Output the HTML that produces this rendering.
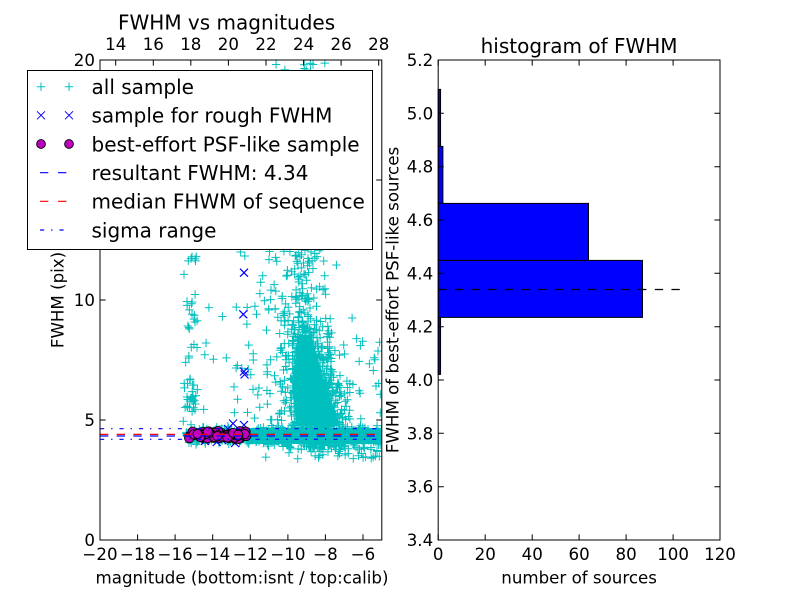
<!DOCTYPE html>
<html>
<head>
<meta charset="utf-8">
<style>
html,body{margin:0;padding:0;background:#fff;}
svg{display:block;}
text{font-family:"DejaVu Sans","Liberation Sans",sans-serif;fill:#000;}
.tk{font-size:16.67px;}
.lg{font-size:20px;}
</style>
</head>
<body>
<svg id="s" width="800" height="600" viewBox="0 0 800 600" xmlns="http://www.w3.org/2000/svg">
<defs>
<clipPath id="c1"><rect x="100" y="60" width="281.8" height="480"/></clipPath>
</defs>
<rect x="0" y="0" width="800" height="600" fill="#fff"/>

<!-- LEFT AXES -->
<g clip-path="url(#c1)">
  <polygon points="246,428 382,428 382,444 246,444" fill="#00bfbf"/>
  <polygon points="299,335 311,335 324,380 340,426 296,426 292,380" fill="#00bfbf"/>
  <path id="cy" d="" stroke="#00bfbf" stroke-width="1" fill="none"/>
  <path id="bx" d="" stroke="#0000ff" stroke-width="1.2" fill="none"/>
  <g id="mc" fill="#bf00bf" stroke="#000" stroke-width="0.9"></g>
  <line x1="100" y1="428.7" x2="382" y2="428.7" stroke="#0000ff" stroke-width="1.2" stroke-dasharray="4.17 6.94 1.39 6.94"/>
  <line x1="100" y1="439.3" x2="382" y2="439.3" stroke="#0000ff" stroke-width="1.2" stroke-dasharray="4.17 6.94 1.39 6.94"/>
  <line x1="100" y1="436" x2="382" y2="436" stroke="#0000ff" stroke-width="1.2" stroke-dasharray="8.33 8.33"/>
  <line x1="100" y1="434.4" x2="382" y2="434.4" stroke="#ff0000" stroke-width="1.2" stroke-dasharray="8.33 8.33"/>
</g>
<rect x="100" y="60" width="281.8" height="480" fill="none" stroke="#000" stroke-width="1"/>
<g stroke="#000" stroke-width="1">
  <path d="M100 540v-5.6M137.6 540v-5.6M175.1 540v-5.6M212.7 540v-5.6M250.3 540v-5.6M287.9 540v-5.6M325.4 540v-5.6M363 540v-5.6"/>
  <path d="M115.7 60v5.6M153.3 60v5.6M190.8 60v5.6M228.4 60v5.6M266 60v5.6M303.6 60v5.6M341.1 60v5.6M378.7 60v5.6"/>
  <path d="M100 540h5.6M100 420h5.6M100 300h5.6M100 180h5.6M100 60h5.6M381.8 540h-5.6M381.8 420h-5.6M381.8 300h-5.6M381.8 180h-5.6M381.8 60h-5.6"/>
</g>
<g class="tk" text-anchor="middle">
  <text x="100" y="560">−20</text>
  <text x="137.6" y="560">−18</text>
  <text x="175.1" y="560">−16</text>
  <text x="212.7" y="560">−14</text>
  <text x="250.3" y="560">−12</text>
  <text x="287.9" y="560">−10</text>
  <text x="325.4" y="560">−8</text>
  <text x="363" y="560">−6</text>
  <text x="115.7" y="50">14</text>
  <text x="153.3" y="50">16</text>
  <text x="190.8" y="50">18</text>
  <text x="228.4" y="50">20</text>
  <text x="266" y="50">22</text>
  <text x="303.6" y="50">24</text>
  <text x="341.1" y="50">26</text>
  <text x="378.7" y="50">28</text>
</g>
<g class="tk" text-anchor="end">
  <text x="95" y="546">0</text>
  <text x="95" y="426">5</text>
  <text x="95" y="306">10</text>
  <text x="95" y="186">15</text>
  <text x="95" y="66">20</text>
</g>
<text class="tk" x="242" y="583.5" text-anchor="middle">magnitude (bottom:isnt / top:calib)</text>
<text class="tk" transform="translate(63.5,300) rotate(-90)" text-anchor="middle">FWHM (pix)</text>
<text x="118" y="29.3" style="font-size:20px">FWHM vs magnitudes</text>

<!-- LEGEND -->
<rect x="27.5" y="70.5" width="345" height="179" fill="#fff" stroke="#000" stroke-width="1"/>
<g stroke="#00bfbf" stroke-width="1"><path d="M36.8 86.7h8.4M41 82.5v8.4M64.8 86.7h8.4M69 82.5v8.4"/></g>
<g stroke="#0000ff" stroke-width="1"><path d="M37 111.3l8 8M37 119.3l8 -8M65 111.3l8 8M65 119.3l8 -8"/></g>
<circle cx="41" cy="144" r="4.4" fill="#bf00bf" stroke="#000" stroke-width="0.9"/>
<circle cx="69" cy="144" r="4.4" fill="#bf00bf" stroke="#000" stroke-width="0.9"/>
<line x1="40" y1="172.7" x2="69" y2="172.7" stroke="#0000ff" stroke-width="1.2" stroke-dasharray="8.33 9.7"/>
<line x1="40" y1="201.3" x2="69" y2="201.3" stroke="#ff0000" stroke-width="1.2" stroke-dasharray="8.33 9.7"/>
<line x1="40" y1="230" x2="69" y2="230" stroke="#0000ff" stroke-width="1.2" stroke-dasharray="4.17 6.94 1.39 6.94"/>
<g class="lg">
  <text x="91.5" y="94">all sample</text>
  <text x="91.5" y="122.6">sample for rough FWHM</text>
  <text x="91.5" y="151.3">best-effort PSF-like sample</text>
  <text x="91.5" y="180">resultant FWHM: 4.34</text>
  <text x="91.5" y="208.6">median FHWM of sequence</text>
  <text x="91.5" y="237.3">sigma range</text>
</g>

<!-- RIGHT AXES -->
<g fill="#0000ff" stroke="#000" stroke-width="1">
  <rect x="438.2" y="317.4" width="2.35" height="57"/>
  <rect x="438.2" y="260.4" width="204.3" height="57"/>
  <rect x="438.2" y="203.4" width="150.3" height="57"/>
  <rect x="438.2" y="146.4" width="4.7" height="57"/>
  <rect x="438.2" y="89.4" width="2.35" height="57"/>
</g>
<line x1="438.2" y1="289.5" x2="682" y2="289.5" stroke="#000" stroke-width="1.2" stroke-dasharray="8.33 8.33"/>
<rect x="438.2" y="60" width="281.8" height="480" fill="none" stroke="#000" stroke-width="1"/>
<g stroke="#000" stroke-width="1">
  <path d="M438.2 540v-5.6M485.2 540v-5.6M532.2 540v-5.6M579.1 540v-5.6M626.1 540v-5.6M673.1 540v-5.6M720 540v-5.6"/>
  <path d="M438.2 60v5.6M485.2 60v5.6M532.2 60v5.6M579.1 60v5.6M626.1 60v5.6M673.1 60v5.6M720 60v5.6"/>
  <path d="M438.2 540h5.6M438.2 486.7h5.6M438.2 433.3h5.6M438.2 380h5.6M438.2 326.7h5.6M438.2 273.3h5.6M438.2 220h5.6M438.2 166.7h5.6M438.2 113.3h5.6M438.2 60h5.6"/>
  <path d="M720 540h-5.6M720 486.7h-5.6M720 433.3h-5.6M720 380h-5.6M720 326.7h-5.6M720 273.3h-5.6M720 220h-5.6M720 166.7h-5.6M720 113.3h-5.6M720 60h-5.6"/>
</g>
<g class="tk" text-anchor="middle">
  <text x="438.2" y="560">0</text>
  <text x="485.2" y="560">20</text>
  <text x="532.2" y="560">40</text>
  <text x="579.1" y="560">60</text>
  <text x="626.1" y="560">80</text>
  <text x="673.1" y="560">100</text>
  <text x="720" y="560">120</text>
</g>
<g class="tk" text-anchor="end">
  <text x="433.2" y="546">3.4</text>
  <text x="433.2" y="492.7">3.6</text>
  <text x="433.2" y="439.3">3.8</text>
  <text x="433.2" y="386">4.0</text>
  <text x="433.2" y="332.7">4.2</text>
  <text x="433.2" y="279.3">4.4</text>
  <text x="433.2" y="226">4.6</text>
  <text x="433.2" y="172.7">4.8</text>
  <text x="433.2" y="119.3">5.0</text>
  <text x="433.2" y="66">5.2</text>
</g>
<text class="tk" x="579.1" y="583.5" text-anchor="middle">number of sources</text>
<text class="tk" transform="translate(398.5,300) rotate(-90)" text-anchor="middle">FWHM of best-effort PSF-like sources</text>
<text class="lg" x="579.1" y="53" text-anchor="middle">histogram of FWHM</text>
</svg>
<script>
(function(){
  var seed=987654;
  function R(){seed|=0;seed=seed+0x6D2B79F5|0;var t=Math.imul(seed^seed>>>15,1|seed);t=t+Math.imul(t^t>>>7,61|t)^t;return((t^t>>>14)>>>0)/4294967296;}
  function G(){var u=R()||1e-9,v=R();return Math.sqrt(-2*Math.log(u))*Math.cos(2*Math.PI*v);}
  var d=[],i,x,y;
  function P(x,y){d.push('M'+(x-4.2).toFixed(1)+' '+y.toFixed(1)+'h8.4M'+x.toFixed(1)+' '+(y-4.2).toFixed(1)+'v8.4');}
  // A: horizontal band
  for(i=0;i<600;i++){x=186+198*R();y=436+G()*3.6;P(x,y);}
  // B: cloud (looser, wider)
  for(i=0;i<650;i++){y=292+158*Math.pow(R(),0.65);var c=303+(y-292)*0.11,sd=9+(y-292)*0.06;x=c+G()*sd;P(x,y);}
  // B2: wider bottom of cloud
  for(i=0;i<180;i++){y=380+65*R();x=318+G()*15;P(x,y);}
  // C: upper column (sparser)
  for(i=0;i<90;i++){y=58+242*R();x=306+G()*16;P(x,y);}
  for(i=0;i<45;i++){y=245+55*R();x=302+G()*13;P(x,y);}
  // D: left column
  for(i=0;i<45;i++){y=255+170*R();x=191+G()*4;P(x,y);}
  for(i=0;i<12;i++){y=398+G()*8;x=190+G()*3;P(x,y);}
  // E: sparse middle
  for(i=0;i<75;i++){x=195+95*Math.sqrt(R());y=250+175*R();P(x,y);}
  // F: right sparse
  for(i=0;i<28;i++){x=335+47*R();y=250+195*Math.sqrt(R());P(x,y);}
  // G: below band
  for(i=0;i<35;i++){x=260+122*Math.sqrt(R());y=446+13*R();P(x,y);}
  document.getElementById('cy').setAttribute('d',d.join(''));
  // blue x markers
  var bx=[[244,272.7],[243.3,314.3],[244,371.5],[244.6,374.5],[244,425],[233,423.5],[216.7,442],[235,443],[205,441],[228,429],[190,436],[222,440]];
  var e=[];
  for(i=0;i<bx.length;i++){x=bx[i][0];y=bx[i][1];e.push('M'+(x-4)+' '+(y-4)+'l8 8M'+(x-4)+' '+(y+4)+'l8 -8');}
  document.getElementById('bx').setAttribute('d',e.join(''));
  // magenta circles
  var g=document.getElementById('mc'),ns='http://www.w3.org/2000/svg';
  for(i=0;i<100;i++){
    x=189+58*R();y=435+Math.max(-4,Math.min(4,G()*1.8));
    var c=document.createElementNS(ns,'circle');
    c.setAttribute('cx',x.toFixed(1));c.setAttribute('cy',y.toFixed(1));c.setAttribute('r','4.6');
    g.appendChild(c);
  }
})();
</script>
</body>
</html>
